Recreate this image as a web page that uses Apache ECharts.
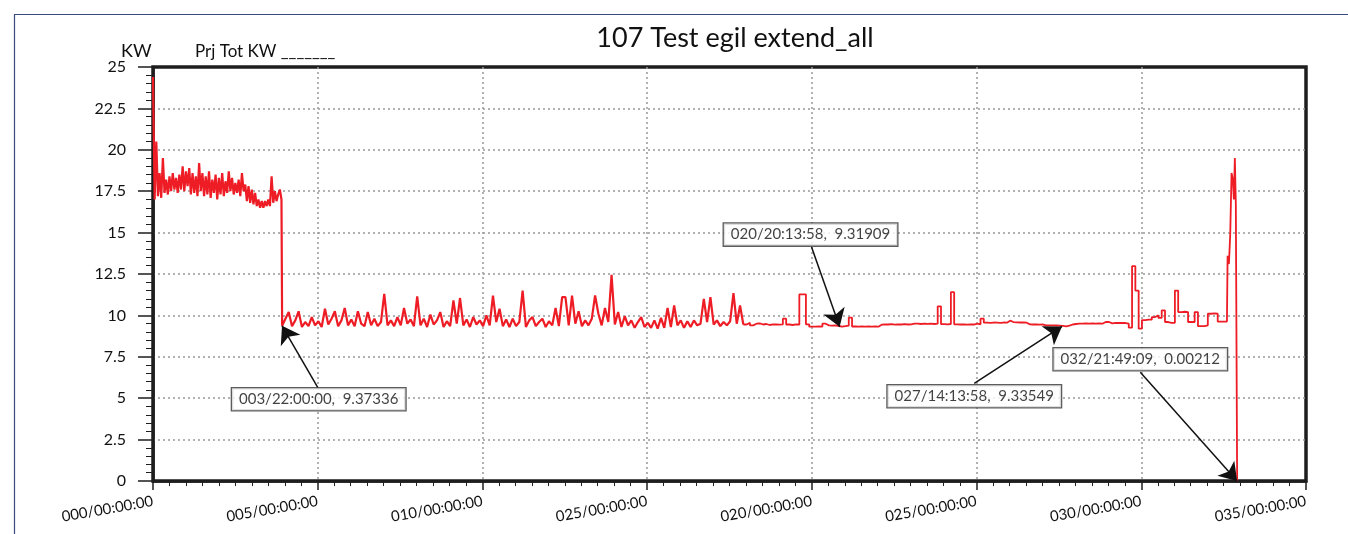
<!DOCTYPE html>
<html>
<head>
<meta charset="utf-8">
<title>107 Test egil extend_all</title>
<script src="https://cdn.jsdelivr.net/npm/echarts@6/dist/echarts.min.js"></script>
<style>
html,body{margin:0;padding:0;background:#fff;}
#kw_chart{width:1348px;height:534px;}
</style>
</head>
<body>
<div id="kw_chart"></div>
<script>
// x axis tick labels, as printed on the original (yes, the 15-day tick says 025)
var tickLabels = ['000/00:00:00', '005/00:00:00', '010/00:00:00', '025/00:00:00',
                  '020/00:00:00', '025/00:00:00', '030/00:00:00', '035/00:00:00'];

// first days, sampled every 0.05 day from day 0
var earlyStep = 0.05;
var earlyKw = [
    24.4, 17.0, 20.5, 17.2, 18.6, 17.1, 19.5, 17.4, 18.2, 17.3,
    18.4, 17.5, 18.6, 17.6, 18.3, 17.4, 18.5, 17.6, 19.0, 17.5,
    18.7, 17.8, 18.9, 17.3, 18.6, 17.4, 18.4, 17.2, 19.2, 17.5,
    18.6, 17.2, 18.4, 17.3, 18.7, 17.1, 18.2, 17.4, 18.5, 17.0,
    18.3, 17.3, 18.6, 17.2, 18.1, 17.4, 18.7, 17.5, 18.3, 17.3,
    18.0, 17.4, 18.2, 17.2, 18.6, 17.5, 17.9, 16.9, 17.8, 16.8,
    17.6, 16.7, 17.4, 16.6, 17.0, 16.5, 16.9, 16.5, 16.9, 16.6,
    17.0, 16.6, 18.4, 16.8, 17.5, 16.9, 17.3, 17.6, 17.0
];

// after the drop, sampled every 0.1 day from day 3.92
var midStart = 3.92;
var midStep = 0.1;
var midKw = [
    9.37, 9.8, 10.2, 9.35, 9.7, 10.25, 9.3, 9.6, 9.35, 9.9,
    9.4, 9.65, 9.3, 10.4, 9.45, 9.8, 10.25, 9.35, 9.7, 10.45,
    9.4, 9.75, 9.35, 10.25, 9.5, 9.35, 10.2, 9.4, 9.8, 9.35,
    9.6, 11.3, 9.4, 9.7, 9.35, 9.9, 9.4, 10.45, 9.5, 9.75,
    9.35, 11.15, 9.4, 9.8, 9.3, 10.05, 9.45, 9.7, 10.2, 9.3,
    9.65, 9.35, 10.9, 9.5, 11.05, 9.4, 9.75, 9.3, 9.9, 9.45,
    9.7, 9.35, 10.0, 9.4, 11.2, 9.6, 10.4, 9.35, 9.75, 9.3,
    9.8, 9.35, 9.6, 11.5, 9.3, 9.7, 9.9, 9.35, 9.6, 9.8,
    9.3, 9.65, 9.4, 10.45, 9.35, 11.1, 11.1, 9.4, 11.2, 9.5,
    10.25, 9.35, 9.7, 9.4, 9.8, 11.2, 10.1, 9.4, 10.45, 9.6,
    12.45, 9.45, 10.2, 9.3, 9.95, 9.4, 9.7, 9.25, 9.6, 9.9,
    9.3, 9.55, 9.25, 9.7, 9.2, 9.85, 9.25, 10.45, 9.3, 10.6,
    9.4, 9.7, 9.25, 9.65, 9.3, 9.7, 9.4, 9.5, 11.0, 9.6,
    11.1, 9.45, 9.7, 9.35, 9.6, 9.4, 9.65, 11.35, 9.5, 10.6,
    9.45, 9.55, 9.4, 9.5, 9.52, 9.45, 9.48, 9.42, 9.46, 9.45,
    9.44, 9.46, 9.8, 9.45, 9.42, 9.46, 9.45, 11.27, 11.27, 9.46,
    9.32, 9.32, 9.33, 9.32, 9.5, 9.4, 9.38, 9.4, 9.36, 9.32,
    9.35, 9.38, 9.86, 9.33, 9.32, 9.33, 9.32, 9.34, 9.32, 9.33,
    9.32, 9.44, 9.46, 9.45, 9.47, 9.44, 9.46, 9.45, 9.47, 9.45,
    9.46, 9.5, 9.5, 9.48, 9.5, 9.49, 9.5, 9.48, 9.5, 10.55,
    9.47, 9.46, 9.48, 11.4, 9.46, 9.45, 9.46, 9.44, 9.46, 9.45,
    9.5, 9.46, 9.8, 9.56, 9.55, 9.57, 9.56, 9.55, 9.57, 9.56,
    9.68, 9.6, 9.58, 9.57, 9.58, 9.56, 9.46, 9.45, 9.45, 9.44,
    9.45, 9.4, 9.4, 9.4, 9.39, 9.38, 9.37, 9.34, 9.38, 9.45,
    9.48, 9.5, 9.5, 9.52, 9.5, 9.52, 9.5, 9.52, 9.5, 9.6,
    9.6, 9.52, 9.55, 9.54, 9.55, 9.54, 9.5, 9.26, 12.97, 11.5,
    9.2, 9.72, 9.75, 9.74, 9.9, 10.0, 9.85, 10.3, 9.6, 9.55,
    9.55, 11.5, 10.2, 10.22, 10.2, 9.6, 9.6, 10.2, 9.35, 9.35,
    9.4, 10.1, 10.12, 10.1, 9.63, 9.63, 9.62
];

// last hours before the load goes to zero
var finalDays = [32.56, 32.60, 32.62, 32.66, 32.70, 32.74, 32.78, 32.81, 32.84, 32.87, 32.90, 32.91];
var finalKw   = [9.63, 9.63, 13.6, 13.1, 14.9, 18.6, 18.2, 17.0, 19.5, 16.7, 16.7, 0.00212];

// annotated readings
var calloutDays = [3.9167, 20.8431, 27.5931, 32.9091];
var calloutKw = [9.37336, 9.31909, 9.33549, 0.00212];
var calloutText = ['003/22:00:00,  9.37336', '020/20:13:58,  9.31909',
                   '027/14:13:58,  9.33549', '032/21:49:09,  0.00212'];

// where the callout boxes sit and where their arrows start (axis units)
var boxAt = [[5.03, 4.94], [19.96, 14.88], [24.93, 5.12], [29.97, 7.35]];
var arrowFrom = [[5.0, 5.66], [19.99, 14.13], [24.93, 5.9], [29.97, 6.57]];

// noisy part is drawn as a plain line, the quieter logger steps after it as steps
var quietFrom = 17.92;

var font = 'Lato';

function build_points(){
    var pts = [];
    for (var i = 0; i < earlyKw.length; i++) {
        pts.push([+(i * earlyStep).toFixed(3), earlyKw[i]]);
    }
    for (var j = 0; j < midKw.length; j++) {
        pts.push([+(midStart + j * midStep).toFixed(3), midKw[j]]);
    }
    for (var k = 0; k < finalDays.length; k++) {
        pts.push([finalDays[k], finalKw[k]]);
    }
    return pts;
}

function display_kw(){
    var kw_chart = echarts.init(document.getElementById('kw_chart'));

    var all = build_points();
    var noisy = all.filter(function(p){ return p[0] <= quietFrom + 1e-6; });
    var quiet = all.filter(function(p){ return p[0] >= quietFrom - 1e-6; });

    var boxes = [], arrows = [];
    for (var i = 0; i < calloutText.length; i++) {
        boxes.push({value: boxAt[i], name: calloutText[i]});
        arrows.push([{coord: arrowFrom[i]}, {coord: [calloutDays[i], calloutKw[i]]}]);
    }

    var kw_option = {
        animation: false,
        backgroundColor: '#fff',
        title: {
            text: '107 Test egil extend_all',
            left: 730,
            textAlign: 'center',
            top: 20,
            textStyle: {fontSize: 27, fontWeight: 'normal', color: '#111', fontFamily: font}
        },
        graphic: [
            {type: 'rect', left: 12, top: 12, shape: {width: 1345, height: 540},
             style: {fill: 'none', stroke: '#3b4a7c', lineWidth: 1.2}, silent: true},
            {type: 'text', left: 121, top: 42,
             style: {text: 'KW', fontSize: 18, fill: '#111', fontFamily: font}},
            {type: 'text', left: 195, top: 43,
             style: {text: 'Prj Tot KW _______', fontSize: 17, fill: '#111', fontFamily: font}}
        ],
        grid: {
            left: 153, right: 42, top: 67, bottom: 53,
            show: true, borderColor: '#1e1e1e', borderWidth: 3.5, backgroundColor: 'transparent'
        },
        xAxis: {
            type: 'value', min: 0, max: 35, interval: 5, offset: 6,
            axisLine: {show: true, lineStyle: {color: '#1e1e1e', width: 2.5}},
            axisTick: {show: true, length: 9, lineStyle: {color: '#1e1e1e', width: 1.5}},
            minorTick: {show: true, splitNumber: 10, length: 5, lineStyle: {color: '#1e1e1e', width: 1}},
            axisLabel: {
                rotate: 10, margin: 14, fontSize: 15, color: '#111', fontFamily: font,
                formatter: function(v){ return tickLabels[Math.round(v / 5)]; }
            },
            splitLine: {show: true, showMinLine: false, showMaxLine: false,
                        lineStyle: {color: '#999', type: [2, 3], width: 1.5}}
        },
        yAxis: {
            type: 'value', min: 0, max: 25, interval: 2.5, offset: 8,
            axisLine: {show: true, lineStyle: {color: '#1e1e1e', width: 2.5}},
            axisTick: {show: true, length: 15, lineStyle: {color: '#1e1e1e', width: 1.5}},
            minorTick: {show: true, splitNumber: 5, length: 7, lineStyle: {color: '#1e1e1e', width: 1}},
            axisLabel: {margin: 19, fontSize: 16, color: '#111', fontFamily: font},
            splitLine: {show: true, showMinLine: false, showMaxLine: false,
                        lineStyle: {color: '#999', type: [2, 3], width: 1.5}}
        },
        series: [
            {
                name: 'Prj Tot KW',
                type: 'line',
                showSymbol: false,
                data: noisy,
                lineStyle: {color: '#ee1c25', width: 2.2},
                z: 3
            },
            {
                name: 'Prj Tot KW',
                type: 'line',
                step: 'end',
                showSymbol: false,
                data: quiet,
                lineStyle: {color: '#ee1c25', width: 1.8},
                z: 3
            },
            {
                type: 'scatter',
                symbolSize: 0,
                data: boxes,
                z: 6,
                label: {
                    show: true, position: 'inside',
                    formatter: function(p){ return p.name; },
                    fontSize: 15, color: '#111', fontFamily: font,
                    backgroundColor: '#fff', borderColor: '#333', borderWidth: 1.3,
                    padding: [4, 7, 3, 7]
                },
                markLine: {
                    silent: true,
                    symbol: ['none', 'arrow'],
                    symbolSize: 17,
                    label: {show: false},
                    lineStyle: {color: '#111', width: 1.5, type: 'solid'},
                    data: arrows
                }
            }
        ]
    };
    kw_chart.setOption(kw_option);
}

display_kw();
</script>
</body>
</html>
